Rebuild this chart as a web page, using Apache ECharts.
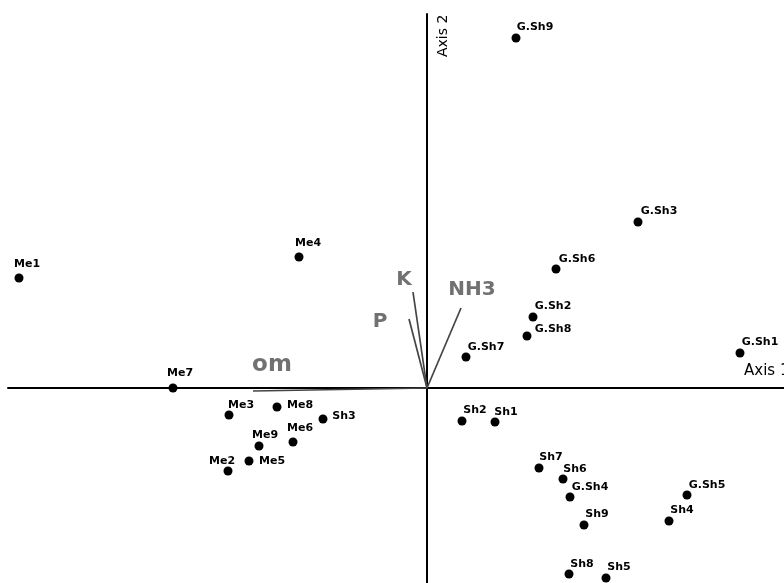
<!DOCTYPE html>
<html>
<head>
<meta charset="utf-8">
<script src="https://cdn.jsdelivr.net/npm/echarts@6/dist/echarts.min.js"></script>
<style>
  html, body { margin: 0; padding: 0; background: #fff; }
  #chart { width: 784px; height: 583px; }
</style>
</head>
<body>
<div id="chart"></div>
<script>
// site scores (axis 1, axis 2)
let siteNames = ['Me1', 'Me2', 'Me3', 'Me4', 'Me5', 'Me6', 'Me7', 'Me8', 'Me9',
    'Sh1', 'Sh2', 'Sh3', 'Sh4', 'Sh5', 'Sh6', 'Sh7', 'Sh8', 'Sh9',
    'G.Sh1', 'G.Sh2', 'G.Sh3', 'G.Sh4', 'G.Sh5', 'G.Sh6', 'G.Sh7', 'G.Sh8', 'G.Sh9'];
let siteAxis1 = [-4.08, -1.99, -1.98, -1.28, -1.78, -1.34, -2.54, -1.50, -1.68,
    0.68, 0.35, -1.04, 2.42, 1.79, 1.36, 1.12, 1.42, 1.57,
    3.13, 1.06, 2.11, 1.43, 2.60, 1.29, 0.39, 1.00, 0.89];
let siteAxis2 = [1.10, -0.83, -0.27, 1.31, -0.73, -0.54, 0.00, -0.19, -0.58,
    -0.34, -0.33, -0.31, -1.33, -1.90, -0.91, -0.80, -1.86, -1.37,
    0.35, 0.71, 1.66, -1.09, -1.07, 1.19, 0.31, 0.52, 3.50];

// variable vectors
let varNames = ['om', 'P', 'K', 'NH3'];
let varAxis1 = [-1.74, -0.18, -0.14, 0.34];
let varAxis2 = [-0.03, 0.69, 0.96, 0.80];

// label placement (pixels from the point)
let siteLabelOffset = {
    'Me1': [8, -14], 'Me2': [-6, -10], 'Me3': [12, -10], 'Me4': [9, -14], 'Me5': [23, 0],
    'Me6': [7, -14], 'Me7': [7, -15], 'Me8': [23, -2], 'Me9': [6, -11],
    'Sh1': [11, -10], 'Sh2': [13, -11], 'Sh3': [21, -3], 'Sh4': [13, -11], 'Sh5': [13, -11],
    'Sh6': [12, -10], 'Sh7': [12, -11], 'Sh8': [13, -10], 'Sh9': [13, -11],
    'G.Sh1': [20, -11], 'G.Sh2': [20, -11], 'G.Sh3': [21, -11], 'G.Sh4': [20, -10],
    'G.Sh5': [20, -10], 'G.Sh6': [21, -10], 'G.Sh7': [20, -10], 'G.Sh8': [26, -7], 'G.Sh9': [19, -11]
};
let varLabelOffset = { 'om': [19, -26], 'P': [-29, 3], 'K': [-9, -12], 'NH3': [11, -18] };
let varLabelSize = { 'om': 23, 'P': 20, 'K': 20, 'NH3': 20 };

let siteData = [];
for (let i = 0; i < siteNames.length; i++) {
    siteData.push({
        name: siteNames[i],
        value: [siteAxis1[i], siteAxis2[i]],
        label: { offset: siteLabelOffset[siteNames[i]] }
    });
}

let series = [];
for (let i = 0; i < varNames.length; i++) {
    series.push({
        type: 'line',
        data: [[0, 0], [varAxis1[i], varAxis2[i]]],
        symbol: 'none',
        lineStyle: { color: '#444', width: 1.7 },
        z: 1
    });
}
series.push({
    type: 'scatter',
    symbolSize: 0,
    data: varNames.map((n, i) => ({
        name: n,
        value: [varAxis1[i], varAxis2[i]],
        label: { offset: varLabelOffset[n], fontSize: varLabelSize[n] }
    })),
    label: {
        show: true,
        position: 'inside',
        formatter: '{b}',
        fontFamily: 'DejaVu Sans',
        fontWeight: 'bold',
        fontSize: 20,
        color: '#4d4d4d'
    },
    z: 3
});
series.push({
    type: 'scatter',
    symbol: 'circle',
    symbolSize: 9,
    itemStyle: { color: '#000', opacity: 1 },
    data: siteData,
    label: {
        show: true,
        position: 'inside',
        formatter: '{b}',
        fontFamily: 'DejaVu Sans',
        fontWeight: 'bold',
        fontSize: 11,
        color: '#000'
    },
    z: 4
});

let option = {
    animation: false,
    backgroundColor: '#fff',
    grid: { left: 8, right: 0, top: 14, bottom: 0 },
    xAxis: {
        type: 'value',
        min: -4.19,
        max: 3.57,
        axisLine: { onZero: true, lineStyle: { color: '#000', width: 2 } },
        axisTick: { show: false },
        axisLabel: { show: false },
        splitLine: { show: false }
    },
    yAxis: {
        type: 'value',
        min: -1.95,
        max: 3.74,
        axisLine: { onZero: true, lineStyle: { color: '#000', width: 2 } },
        axisTick: { show: false },
        axisLabel: { show: false },
        splitLine: { show: false }
    },
    graphic: [
        {
            type: 'text',
            x: 436,
            y: 57,
            rotation: Math.PI / 2,
            style: { text: 'Axis 2', font: '14px "DejaVu Sans"', fill: '#000' }
        },
        {
            type: 'text',
            x: 744,
            y: 371,
            style: { text: 'Axis 1', font: '15px "DejaVu Sans"', fill: '#000', verticalAlign: 'middle' }
        }
    ],
    series: series
};

let chart = echarts.init(document.getElementById('chart'));
chart.setOption(option);
</script>
</body>
</html>
